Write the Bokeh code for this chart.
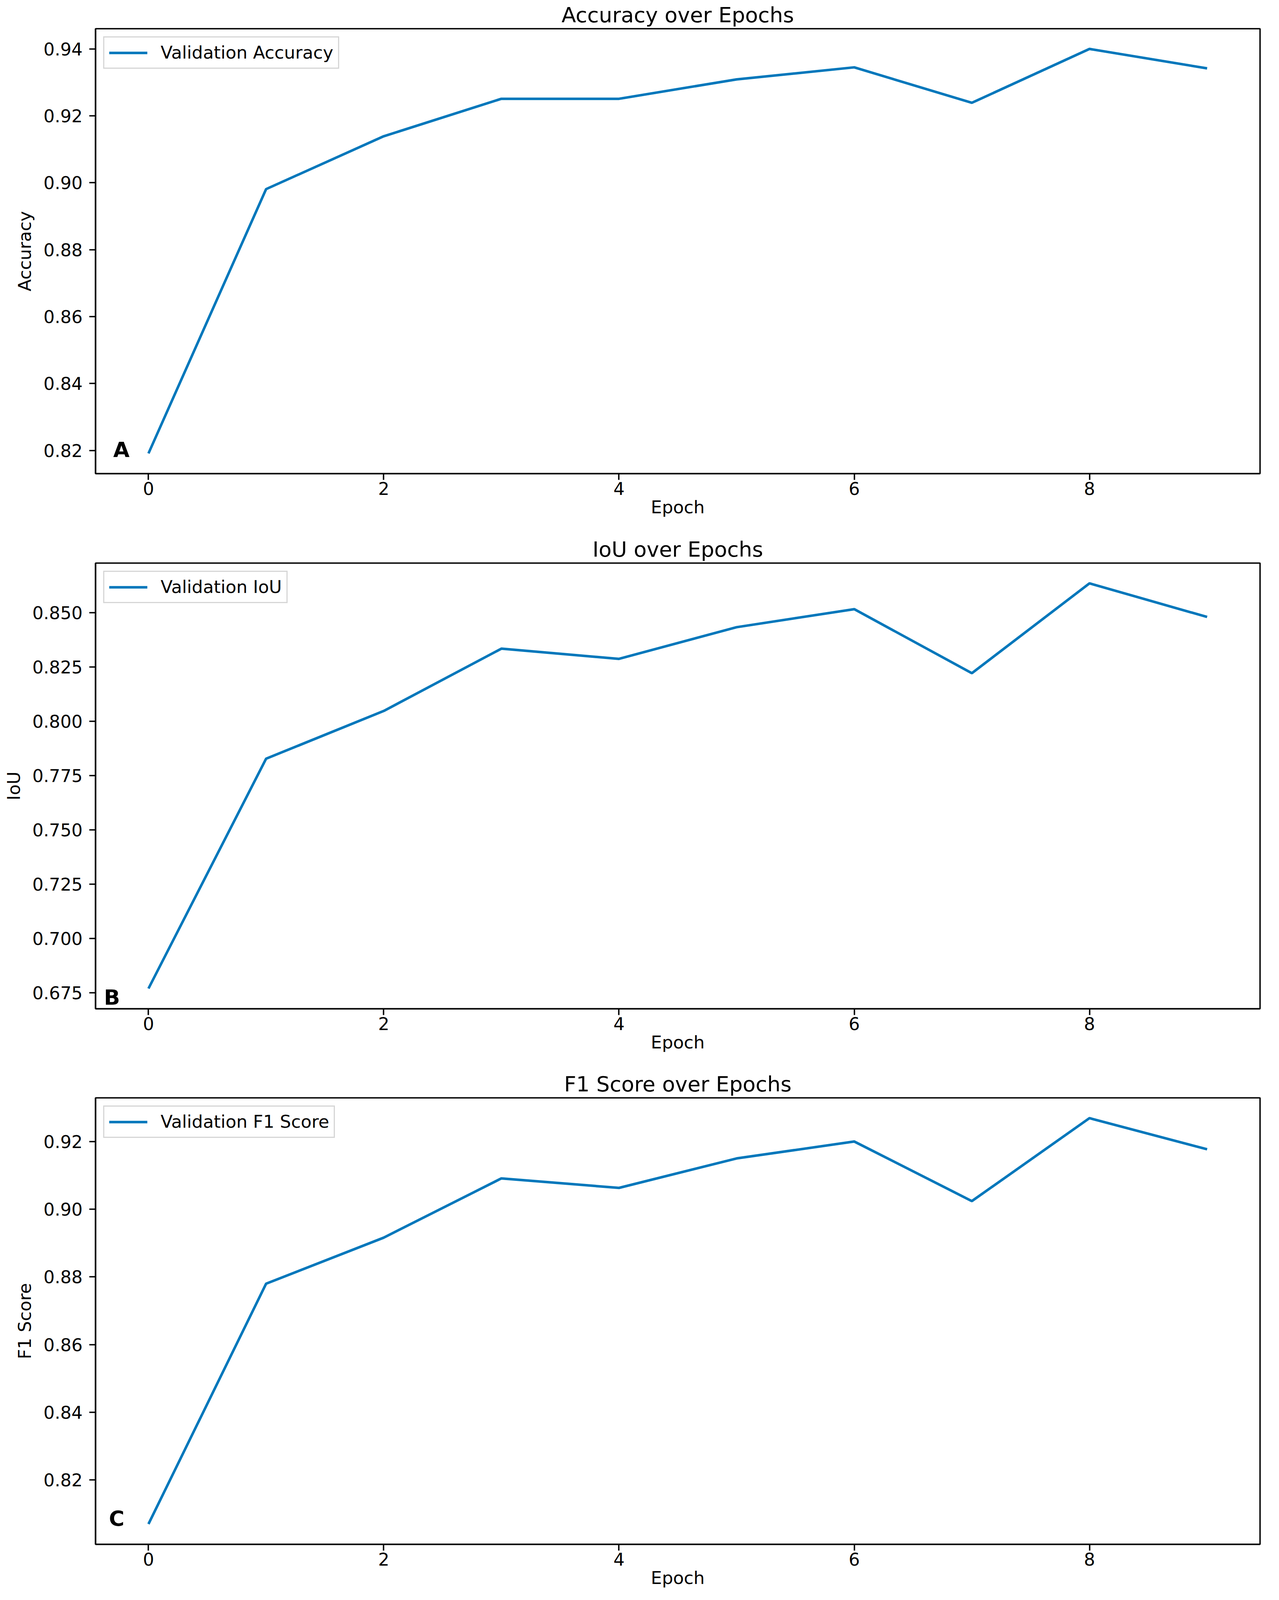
from bokeh.plotting import figure
from bokeh.layouts import column
from bokeh.models import FixedTicker, PrintfTickFormatter, Label, Range1d
from bokeh.embed import file_html
from bokeh.resources import INLINE

epochs = list(range(10))
val_accuracy = [0.8191, 0.8981, 0.9139, 0.9251, 0.9251, 0.9309, 0.9345, 0.9239, 0.9400, 0.9342]
val_iou = [0.6769, 0.7828, 0.8048, 0.8335, 0.8288, 0.8434, 0.8517, 0.8222, 0.8636, 0.8481]
val_f1 = [0.8070, 0.8780, 0.8916, 0.9091, 0.9063, 0.9150, 0.9200, 0.9024, 0.9269, 0.9177]

x_ticks = [0, 2, 4, 6, 8]
acc_ticks = [0.82, 0.84, 0.86, 0.88, 0.90, 0.92, 0.94]
iou_ticks = [0.675, 0.700, 0.725, 0.750, 0.775, 0.800, 0.825, 0.850]
f1_ticks = [0.82, 0.84, 0.86, 0.88, 0.90, 0.92]

titles = ["Accuracy over Epochs", "IoU over Epochs", "F1 Score over Epochs"]
ylabels = ["Accuracy", "IoU", "F1 Score"]
legend_labels = ["Validation Accuracy", "Validation IoU", "Validation F1 Score"]
panel_letters = ["A", "B", "C"]

FONT = "DejaVu Sans"
LINE_COLOR = "#0077bb"


def make_panel(values, ticks, fmt, title, ylabel, leg, letter, letter_xy,
               frame_h, top, bottom):
    lo, hi = min(values), max(values)
    pad = 0.05 * (hi - lo)
    p = figure(frame_width=2980, frame_height=frame_h,
               min_border_left=244, min_border_right=33,
               min_border_top=top, min_border_bottom=bottom,
               x_range=Range1d(-0.45, 9.45), y_range=Range1d(lo - pad, hi + pad),
               output_backend="svg", toolbar_location=None, title=title)
    p.line(epochs, values, line_color=LINE_COLOR, line_width=6.5, legend_label=leg)

    p.title.text_font = FONT
    p.title.text_font_size = "54px"
    p.title.text_font_style = "normal"
    p.title.text_color = "black"
    p.title.align = "center"
    p.title.standoff = 8

    p.grid.visible = False
    p.outline_line_color = "black"
    p.outline_line_width = 3.6
    p.background_fill_color = "white"
    p.border_fill_color = "white"

    for ax in (p.xaxis[0], p.yaxis[0]):
        ax.axis_line_color = "black"
        ax.axis_line_width = 3.6
        ax.major_tick_line_color = "black"
        ax.major_tick_line_width = 3.6
        ax.major_tick_out = 16
        ax.major_tick_in = 0
        ax.minor_tick_line_color = None
        ax.major_label_text_font = FONT
        ax.major_label_text_font_size = "45px"
        ax.major_label_text_color = "black"
        ax.axis_label_text_font = FONT
        ax.axis_label_text_font_size = "45px"
        ax.axis_label_text_font_style = "normal"
        ax.axis_label_text_color = "black"

    p.xaxis.major_label_standoff = 5
    p.xaxis.axis_label_standoff = 2
    p.yaxis.major_label_standoff = 17
    p.yaxis.axis_label_standoff = 18

    p.xaxis.ticker = FixedTicker(ticks=x_ticks)
    p.yaxis.ticker = FixedTicker(ticks=ticks)
    p.yaxis.formatter = PrintfTickFormatter(format=fmt)
    p.xaxis.axis_label = "Epoch"
    p.yaxis.axis_label = ylabel

    lg = p.legend[0]
    lg.location = "top_left"
    lg.margin = 20
    lg.padding = 12
    lg.glyph_width = 98
    lg.glyph_height = 48
    lg.label_standoff = 34
    lg.label_text_font = FONT
    lg.label_text_font_size = "45px"
    lg.label_text_color = "black"
    lg.background_fill_color = "white"
    lg.background_fill_alpha = 0.8
    lg.border_line_color = "#cccccc"
    lg.border_line_width = 3
    lg.border_line_alpha = 0.8

    p.add_layout(Label(x=letter_xy[0], y=letter_xy[1], text=letter,
                       text_font=FONT, text_font_size="54px",
                       text_font_style="bold", text_color="black",
                       text_align="center", text_baseline="middle"))
    return p


p1 = make_panel(val_accuracy, acc_ticks, "%.2f", titles[0], ylabels[0], legend_labels[0],
                panel_letters[0], (-0.23, 0.8202), 1139, 72, 156)
p2 = make_panel(val_iou, iou_ticks, "%.3f", titles[1], ylabels[1], legend_labels[1],
                panel_letters[1], (-0.31, 0.6728), 1141, 72, 155)
p3 = make_panel(val_f1, f1_ticks, "%.2f", titles[2], ylabels[2], legend_labels[2],
                panel_letters[2], (-0.27, 0.8086), 1143, 72, 130)

layout = column(p1, p2, p3, spacing=0)
open("out.html", "w").write(file_html(layout, INLINE))
